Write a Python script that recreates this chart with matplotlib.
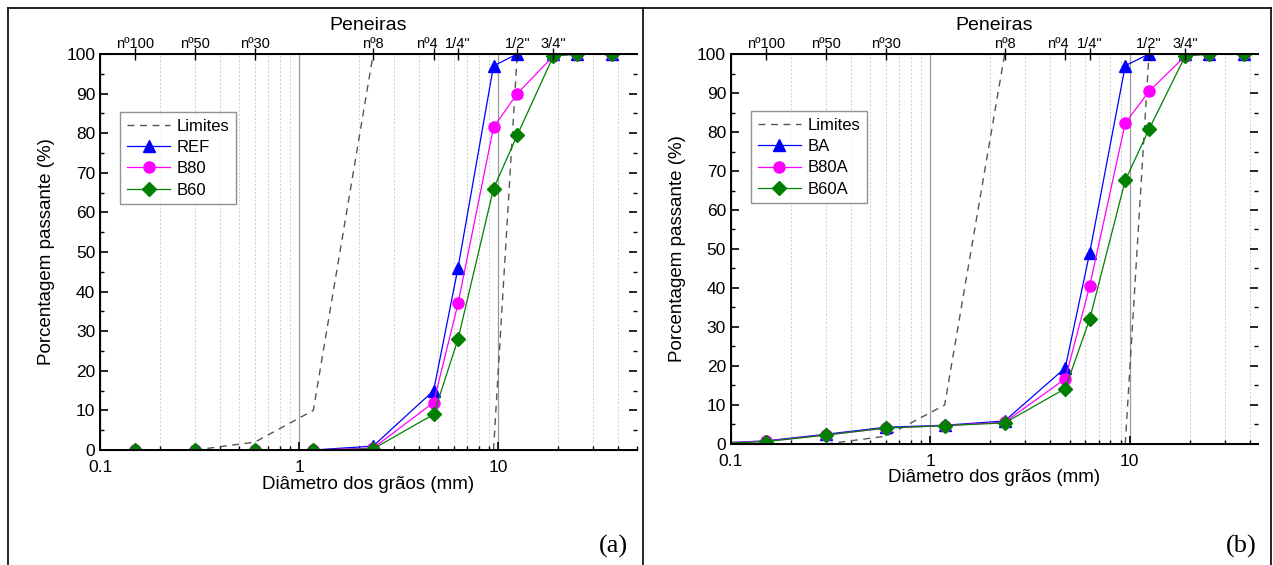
import matplotlib
matplotlib.use("Agg")
import matplotlib.pyplot as plt
import matplotlib.transforms as mtransforms
from matplotlib.lines import Line2D
from matplotlib.ticker import FixedLocator, NullFormatter, LogLocator, MultipleLocator

plt.rcParams['font.family'] = ['Liberation Sans', 'DejaVu Sans']

# sieve openings (mm)
diam = [0.075, 0.15, 0.3, 0.6, 1.18, 2.36, 4.75, 6.3, 9.5, 12.5, 19, 25, 37.5]

# panel (a)
ref = [0, 0, 0, 0, 0, 1.0, 15, 46, 97, 100, 100, 100, 100]
b80 = [0, 0, 0, 0, 0, 0.5, 12, 37, 81.5, 90, 99.5, 100, 100]
b60 = [0, 0, 0, 0, 0, 0.3, 9, 28, 66, 79.5, 99.5, 100, 100]

# panel (b)
ba = [0.1, 0.8, 2.5, 4.3, 4.8, 5.9, 19.5, 49, 97, 100, 100, 100, 100]
b80a = [0.1, 0.7, 2.3, 4.1, 4.7, 5.6, 16.7, 40.5, 82.3, 90.4, 99.5, 100, 100]
b60a = [0.1, 0.6, 2.3, 4.1, 4.7, 5.4, 14.2, 32, 67.6, 80.7, 99.5, 100, 100]

# grading limits
lim_low_x = [0.3, 0.6, 1.18, 2.36]
lim_low_y = [0, 2, 10, 100]
lim_up_x = [9.5, 12.5]
lim_up_y = [0, 100]

# top axis sieves
sieve_pos = [0.15, 0.3, 0.6, 2.36, 4.75, 6.3, 12.5, 19]
sieve_lab = ['nº100', 'nº50', 'nº30', 'nº8', 'nº4', '1/4"', '1/2"', '3/4"']

fig = plt.figure(figsize=(12.73, 5.65), dpi=100)


def panel(rect, xmax, series, labels, letter, letter_x, xlabelpad):
    ax = fig.add_axes(rect)
    ax.set_xscale('log')
    ax.set_xlim(0.1, xmax)
    ax.set_ylim(0, 100)
    ax.grid(True, which='minor', axis='x', color='#cfcfcf', linestyle=(0, (2, 2)), linewidth=0.7)
    ax.grid(True, which='major', axis='x', color='#999999', linestyle='-', linewidth=0.9)
    ax.plot(lim_low_x, lim_low_y, color='#555555', linestyle=(0, (5, 4)), linewidth=1.0, label='Limites')
    ax.plot(lim_up_x, lim_up_y, color='#555555', linestyle=(0, (5, 4)), linewidth=1.0)
    styles = [('blue', '^', 9), ('#ff00ff', 'o', 8), ('#008000', 'D', 7)]
    for (c, m, ms), ys, lab in zip(styles, series, labels):
        ax.plot(diam, ys, color=c, marker=m, markersize=ms, linewidth=0.9, label=lab, clip_on=True)
    ax.yaxis.set_major_locator(MultipleLocator(10))
    ax.yaxis.set_minor_locator(MultipleLocator(5))
    ax.xaxis.set_minor_locator(LogLocator(base=10, subs=range(2, 10), numticks=20))
    ax.set_xticks([0.1, 1, 10])
    ax.set_xticklabels(['0.1', '1', '10'])
    ax.tick_params(axis='both', which='major', direction='in', length=6, width=1.2, labelsize=12.5,
                   top=True, right=True)
    ax.tick_params(axis='both', which='minor', direction='in', length=3, width=1.0, top=True, right=True)
    ax.tick_params(axis='x', pad=7)
    ax.spines['right'].set_visible(False)
    for s in ['left', 'bottom', 'top']:
        ax.spines[s].set_linewidth(1.4)
    ax.set_xlabel('Diâmetro dos grãos (mm)', fontsize=13.5, labelpad=xlabelpad)
    ax.set_ylabel('Porcentagem passante (%)', fontsize=13.5, labelpad=8)
    leg = ax.legend(loc='upper left', bbox_to_anchor=(0.022, 0.875), fontsize=12,
                    frameon=True, fancybox=False, edgecolor='#777777', borderpad=0.4,
                    handlelength=2.6, labelspacing=0.38, handletextpad=0.4)
    leg.get_frame().set_linewidth(1.0)

    top = ax.twiny()
    top.set_xscale('log')
    top.set_xlim(0.1, xmax)
    top.xaxis.set_major_locator(FixedLocator(sieve_pos))
    top.xaxis.set_minor_locator(FixedLocator([]))
    top.xaxis.set_minor_formatter(NullFormatter())
    top.set_xticklabels(sieve_lab)
    top.tick_params(axis='x', which='major', direction='inout', length=9, width=1.0, labelsize=10.5, pad=-2)
    # nudge the crowded 'nº4' label slightly left as in the reference
    shift = mtransforms.ScaledTranslation(-5 / 72, 0, fig.dpi_scale_trans)
    for t in top.get_xticklabels():
        if t.get_text() == 'nº4':
            t.set_transform(t.get_transform() + shift)
    top.spines['right'].set_visible(False)
    top.set_title('Peneiras', fontsize=14, pad=5)
    fig.text(letter_x, 0.012, letter, fontsize=19, family='Liberation Serif', ha='right', va='bottom')
    return ax


panel([0.0786, 0.2035, 0.4218, 0.7009], 50, [ref, b80, b60], ['REF', 'B80', 'B60'], '(a)', 0.493, 1)
panel([0.5742, 0.2142, 0.4140, 0.6902], 44, [ba, b80a, b60a], ['BA', 'B80A', 'B60A'], '(b)', 0.987, 0)

# table borders
for (x0, y0, x1, y1) in [(0.0063, 0.9858, 0.9984, 0.9858), (0.0063, 0.0, 0.0063, 0.9858),
                         (0.505, 0.0, 0.505, 0.9858), (0.9984, 0.0, 0.9984, 0.9858)]:
    fig.add_artist(Line2D([x0, x1], [y0, y1], transform=fig.transFigure, color='black', linewidth=1.2))

fig.savefig('out.png', dpi=100)
